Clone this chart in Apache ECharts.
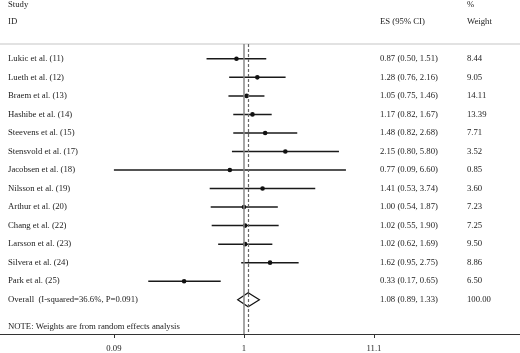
<!DOCTYPE html>
<html>
<head>
<meta charset="utf-8">
<style>
    html, body { margin: 0; padding: 0; background: #fff; }
    #forest { width: 520px; height: 353px; }
</style>
<script src="https://cdn.jsdelivr.net/npm/echarts@6/dist/echarts.min.js"></script>
</head>
<body>
<div id="forest"></div>
<script>
// 研究名称
var studies = ['Lukic et al. (11)', 'Lueth et al. (12)', 'Braem et al. (13)', 'Hashibe et al. (14)',
    'Steevens et al. (15)', 'Stensvold et al. (17)', 'Jacobsen et al. (18)', 'Nilsson et al. (19)',
    'Arthur et al. (20)', 'Chang et al. (22)', 'Larsson et al. (23)', 'Silvera et al. (24)', 'Park et al. (25)'];
// 效应值及95%置信区间
var es    = [0.87, 1.28, 1.05, 1.17, 1.48, 2.15, 0.77, 1.41, 1.00, 1.02, 1.02, 1.62, 0.33];
var lower = [0.50, 0.76, 0.75, 0.82, 0.82, 0.80, 0.09, 0.53, 0.54, 0.55, 0.62, 0.95, 0.17];
var upper = [1.51, 2.16, 1.46, 1.67, 2.68, 5.80, 6.60, 3.74, 1.87, 1.90, 1.69, 2.75, 0.65];
var weights = ['8.44', '9.05', '14.11', '13.39', '7.71', '3.52', '0.85', '3.60', '7.23', '7.25', '9.50', '8.86', '6.50'];
// 合并结果
var overallLabel = 'Overall  (I-squared=36.6%, P=0.091)';
var overallEs = [1.08, 0.89, 1.33];
var overallWeight = '100.00';
// x轴刻度
var tickValues = [0.09, 1, 11.1];
var tickLabels = ['0.09', '1', '11.1'];

var FONT = '"Liberation Serif", "DejaVu Serif", serif';
var FS = 8.7;
var TXT = '#222';

function fmt(v) { return v.toFixed(2); }

var rows = studies.map(function (s, i) { return [i, es[i], lower[i], upper[i]]; });
var overallRow = studies.length;

var myChart = echarts.init(document.getElementById('forest'));
myChart.setOption({
    animation: false,
    backgroundColor: '#fff',
    grid: { left: 0, right: 0, top: 44, bottom: 18 },
    xAxis: [
        {
            type: 'log',
            logBase: 10,
            min: 0.01093,
            max: 165.5,
            axisLine: { show: true, onZero: false, lineStyle: { color: '#333', width: 1 } },
            axisTick: { show: true, customValues: tickValues, inside: false, length: 4, lineStyle: { color: '#333' } },
            axisLabel: {
                show: true, customValues: tickValues, margin: 10,
                fontFamily: FONT, fontSize: FS, color: TXT,
                formatter: function (v) {
                    var k = tickValues.indexOf(+v);
                    return k >= 0 ? tickLabels[k] : String(+v);
                }
            },
            splitLine: { show: false }
        },
        {
            // 顶部灰线
            type: 'log', position: 'top', min: 0.01093, max: 165.5,
            axisLine: { show: true, onZero: false, lineStyle: { color: '#d8d8d8', width: 1.5 } },
            axisTick: { show: false }, axisLabel: { show: false }, splitLine: { show: false }
        }
    ],
    yAxis: {
        type: 'value', inverse: true, min: -0.8, max: 14.85,
        show: false
    },
    graphic: [
        { type: 'text', left: 8, top: 0, style: { text: 'Study', font: FS + 'px ' + FONT, fill: TXT } },
        { type: 'text', left: 8, top: 17, style: { text: 'ID', font: FS + 'px ' + FONT, fill: TXT } },
        { type: 'text', left: 380, top: 17, style: { text: 'ES (95% CI)', font: FS + 'px ' + FONT, fill: TXT } },
        { type: 'text', left: 467, top: 0, style: { text: '%', font: FS + 'px ' + FONT, fill: TXT } },
        { type: 'text', left: 467, top: 17, style: { text: 'Weight', font: FS + 'px ' + FONT, fill: TXT } },
        { type: 'text', left: 8, top: 322, style: { text: 'NOTE: Weights are from random effects analysis', font: FS + 'px ' + FONT, fill: TXT } }
    ],
    series: [
        {
            // 置信区间线和点
            type: 'custom',
            coordinateSystem: 'cartesian2d',
            encode: { x: [1, 2, 3], y: 0 },
            data: rows,
            renderItem: function (params, api) {
                var i = api.value(0);
                var pLo = api.coord([api.value(2), i]);
                var pHi = api.coord([api.value(3), i]);
                var pEs = api.coord([api.value(1), i]);
                return {
                    type: 'group',
                    children: [
                        { type: 'line', shape: { x1: pLo[0], y1: pLo[1], x2: pHi[0], y2: pHi[1] }, style: { stroke: '#1a1a1a', lineWidth: 1.5 } },
                        { type: 'circle', shape: { cx: pEs[0], cy: pEs[1], r: 2.3 }, style: { fill: '#111' } }
                    ]
                };
            },
            markLine: {
                silent: true,
                symbol: 'none',
                label: { show: false },
                data: [
                    { xAxis: 1, lineStyle: { color: '#888', type: 'solid', width: 1.5 } },
                    { xAxis: overallEs[0], lineStyle: { color: '#666', type: [3, 2], width: 1.2 } }
                ]
            },
            z: 3
        },
        {
            // 合并效应菱形
            type: 'custom',
            coordinateSystem: 'cartesian2d',
            encode: { x: [1, 2, 3], y: 0 },
            data: [[overallRow, overallEs[0], overallEs[1], overallEs[2]]],
            renderItem: function (params, api) {
                var i = api.value(0);
                var h = 0.38;
                var pts = [
                    api.coord([api.value(2), i]),
                    api.coord([api.value(1), i - h]),
                    api.coord([api.value(3), i]),
                    api.coord([api.value(1), i + h])
                ];
                return { type: 'polygon', shape: { points: pts }, style: { fill: '#fff', stroke: '#111', lineWidth: 1.2 } };
            },
            z: 4
        },
        {
            // 文字列
            type: 'custom',
            coordinateSystem: 'cartesian2d',
            encode: { x: 1, y: 0 },
            data: rows.concat([[overallRow, overallEs[0], overallEs[1], overallEs[2]]]),
            renderItem: function (params, api) {
                var i = api.value(0);
                var y = api.coord([1, i])[1];
                var isOverall = i === overallRow;
                var label = isOverall ? overallLabel : studies[i];
                var esText = fmt(api.value(1)) + ' (' + fmt(api.value(2)) + ', ' + fmt(api.value(3)) + ')';
                var w = isOverall ? overallWeight : weights[i];
                var st = function (t, x) {
                    return { type: 'text', x: x, y: y, style: { text: t, font: FS + 'px ' + FONT, fill: TXT, verticalAlign: 'middle', align: 'left' } };
                };
                return { type: 'group', children: [st(label, 8), st(esText, 380), st(w, 467)] };
            },
            z: 5
        }
    ]
});
</script>
</body>
</html>
